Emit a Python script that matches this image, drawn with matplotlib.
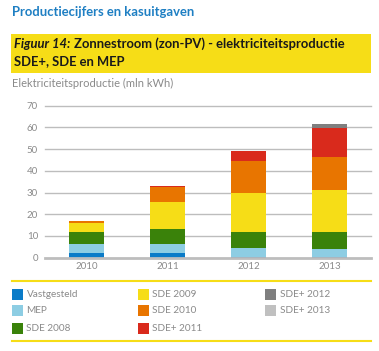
import matplotlib
matplotlib.use("Agg")
import matplotlib.pyplot as plt
from matplotlib.patches import Rectangle
import numpy as np

plt.rcParams['font.family'] = ['Lato', 'DejaVu Sans']

years = ['2010', '2011', '2012', '2013']
series = ['Vastgesteld', 'MEP', 'SDE 2008', 'SDE 2009', 'SDE 2010', 'SDE+ 2011', 'SDE+ 2012', 'SDE+ 2013']
vastgesteld = [2.2, 2.2, 0.5, 0.5]
mep = [4.1, 4.1, 4.0, 3.5]
sde2008 = [5.5, 6.9, 7.3, 7.8]
sde2009 = [4.2, 12.4, 18.1, 19.4]
sde2010 = [0.9, 7.0, 14.8, 15.2]
sdep2011 = [0.0, 0.6, 4.4, 13.3]
sdep2012 = [0.0, 0.0, 0.0, 1.9]
sdep2013 = [0.0, 0.0, 0.0, 0.0]
values = [vastgesteld, mep, sde2008, sde2009, sde2010, sdep2011, sdep2012, sdep2013]
colors = ['#0a7bc8', '#8dcde3', '#3a820a', '#f6dd17', '#e87500', '#d92a1c', '#7f7f7f', '#c0c0c0']
yticks = [0, 10, 20, 30, 40, 50, 60, 70]

W, H = 379, 351
fig = plt.figure(figsize=(W / 100, H / 100), dpi=100)
fig.patch.set_facecolor('white')

def fx(px):
    return px / W

def fy(py):
    return 1 - py / H

# header
fig.text(fx(12), fy(12), 'Productiecijfers en kasuitgaven', color='#1e7fc3',
         fontsize=9.4, fontweight='bold', va='center', ha='left')
fig.patches.append(Rectangle((fx(11), fy(72.7)), fx(371) - fx(11), fy(33.7) - fy(72.7),
                             transform=fig.transFigure, facecolor='#f6dd17', edgecolor='none'))
t1 = fig.text(fx(14), fy(44), 'Figuur 14:', style='italic', fontweight='bold', fontsize=9.4,
              va='center', ha='left', color='#1a1a1a')
renderer = fig.canvas.get_renderer()
bb = t1.get_window_extent(renderer=renderer)
fig.text(bb.x1 / W + 3.5 / W, fy(44), 'Zonnestroom (zon-PV) - elektriciteitsproductie', fontweight='bold',
         fontsize=9.4, va='center', ha='left', color='#1a1a1a')
fig.text(fx(14), fy(61), 'SDE+, SDE en MEP', fontweight='bold', fontsize=9.4,
         va='center', ha='left', color='#1a1a1a')
fig.text(fx(12), fy(83), 'Elektriciteitsproductie (mln kWh)', fontsize=8, color='#8a8a8a',
         va='center', ha='left')

ax = fig.add_axes([fx(45), fy(257.7), fx(371) - fx(45), fy(105.7) - fy(257.7)])
x = np.arange(len(years))
bottom = np.zeros(len(years))
for name, vals, c in zip(series, values, colors):
    ax.bar(x, vals, width=0.43, bottom=bottom, color=c, label=name, zorder=3)
    bottom += np.array(vals)

ax.set_xlim(-0.512, 3.512)
ax.set_ylim(0, 70)
ax.set_yticks(yticks)
ax.set_xticks(x)
ax.set_xticklabels(years)
for yv in yticks:
    ax.axhline(yv, color='#bdbdbd', lw=2.0 if yv == 0 else 1.0, zorder=1 if yv else 4, clip_on=False)
for s in ax.spines.values():
    s.set_visible(False)
ax.tick_params(axis='both', length=0, labelsize=7, labelcolor='#8a8a8a')
ax.tick_params(axis='y', pad=5)
ax.tick_params(axis='x', pad=3)

# legend frame lines
fig.add_artist(plt.Line2D([fx(12), fx(371)], [fy(281), fy(281)], color='#f6dd17', lw=1.5))
fig.add_artist(plt.Line2D([fx(12), fx(371)], [fy(340.7), fy(340.7)], color='#f6dd17', lw=1.5))

col_x = [12, 138, 265]
row_y = [294.3, 310.7, 328.7]
order = [(0, 0), (0, 1), (0, 2), (1, 0), (1, 1), (1, 2), (2, 0), (2, 1)]
for (ci, ri), name, c in zip(order, series, colors):
    sq = 11
    fig.patches.append(Rectangle((fx(col_x[ci]), fy(row_y[ri] + sq / 2)), sq / W, sq / H,
                                 transform=fig.transFigure, facecolor=c, edgecolor='none'))
    fig.text(fx(col_x[ci] + 14.5), fy(row_y[ri]), name, fontsize=7.2, color='#8a8a8a',
             va='center', ha='left')

fig.savefig('out.png', dpi=100, facecolor='white')
